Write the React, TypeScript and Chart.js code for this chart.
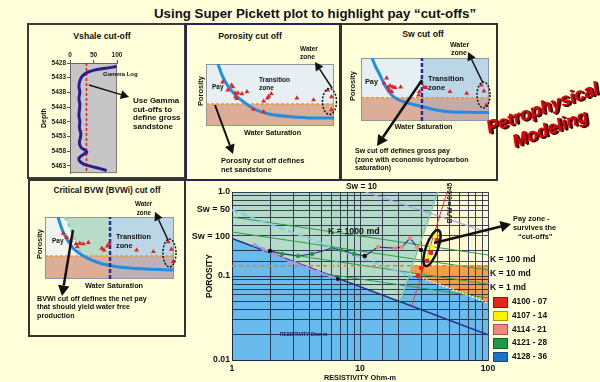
import React, { useEffect, useRef } from 'react';
import { Chart, registerables } from 'chart.js';
Chart.register(...registerables);

const FONT = '"Liberation Sans", Arial, Helvetica, sans-serif';

// ---------------- Vshale panel data ----------------
const vshaleXTicks = [0, 50, 100];
const vshaleDepthTicks = [5428, 5433, 5438, 5443, 5448, 5453, 5458, 5463];
const gammaDepth = [5429.2, 5429.8, 5430.5, 5431.3, 5432.5, 5434.0, 5436.0, 5438.0, 5440.0, 5442.0, 5444.0, 5446.0, 5448.0, 5450.0, 5452.0, 5453.5, 5455.0, 5456.0, 5457.0, 5457.8, 5458.4, 5459.2, 5460.2, 5461.0, 5461.8, 5462.5, 5463.2, 5463.9, 5464.6];
const gammaValue = [99, 75, 50, 36, 26, 21, 19, 21, 19, 21, 20, 19, 21, 20, 23, 22, 20, 21, 25, 33, 36, 28, 20, 19, 23, 30, 45, 62, 78];
const gammaCutoff = 35;

// ---------------- Porosity cut-off panel ----------------
const porCurveSw = [9.4, 12.5, 17, 23, 30.5, 38, 50, 66, 81, 100];
const porCurvePhi = [100, 82, 65, 50, 37, 27, 19, 15, 13, 13];
const porPointSw = [13, 17, 20, 21, 23, 25, 28, 32, 23, 24, 37, 45, 45, 48, 49, 51, 71, 84, 95, 98, 98];
const porPointPhi = [71, 58, 66, 63, 53, 53, 52, 55, 47, 44, 27, 23, 40, 45, 48, 52, 45, 42, 58, 47, 26];
const porCutoff = 35.5;

// ---------------- Sw cut-off panel ----------------
const swCurveSw = [8.6, 11.5, 14.8, 18.5, 22.7, 28, 36, 44, 51.6, 60, 69.5, 82, 100];
const swCurvePhi = [100, 86, 73, 57, 44, 35, 29, 24.5, 21, 17, 14.5, 13.8, 13.5];
const swPointSw = [20, 18, 21, 22.7, 24.7, 26.6, 31, 22, 24, 45, 45.6, 49, 50.8, 69.5, 82.6, 94, 96, 98];
const swPointPhi = [68, 60, 54, 56, 54, 53, 54, 49, 46.5, 41, 46.5, 54, 53, 46.5, 44, 57, 47.6, 25];
const swPorCutoff = 37;
const swCutoff = 47.6;

// ---------------- BVWi panel ----------------
const bvwCurveSw = [10, 14, 21.7, 32.6, 48, 66, 100];
const bvwCurvePhi = [100, 76, 50, 34, 22.6, 17.7, 14.5];
const bvwiSw = [15.5, 21, 24.8, 28];
const bvwiPhi = [100, 76, 55, 37];
const bvwPointSw = [14.2, 16.8, 19.9, 24, 27, 29.7, 33.6, 25, 44, 45.7, 48.3, 49.8, 71, 84, 95.6, 98, 99.5];
const bvwPointPhi = [73.7, 67, 62, 56.5, 57.5, 56.5, 58.6, 52, 49.5, 46.8, 53, 57.5, 46.8, 44, 60, 48, 28];
const bvwPorCutoff = 37;
const bvwSwCutoff = 50.4;

// ---------------- Super Pickett plot ----------------
const rtTickValues = [1, 10, 100];
const rtTickLabels = ['1', '10', '100'];
const phiTickValues = [0.01, 0.1, 1];
const phiTickLabels = ['0.01', '0.1', '1.0'];
const sw100Rt = [1, 100];
const sw100Phi = [0.279, 0.0199];
const sw50Rt = [1, 25.7];
const sw50Phi = [0.607, 0.0984];
const sw10Rt = [11, 100];
const sw10Phi = [1.0, 0.33];
const kLineRt = [1, 100];
const kLinePhi = [[0.504, 0.178], [0.334, 0.118], [0.228, 0.080], [0.155, 0.0547]];
const phiCutoff = 0.132;
const bvwLineRt = [47.9, 25.5];
const bvwLinePhi = [1.0, 0.0452];
const zoneEdgeRt = [40.6, 20.5];
const zoneEdgePhi = [1.0, 0.0494];
const lowEdgeRt = [24.5, 100];
const lowEdgePhi = [0.107, 0.0481];
const shaleRt = [1.51, 1.75, 2.17, 2.5, 3.1, 3.86, 4.7, 6.7];
const shalePhi = [0.234, 0.21, 0.178, 0.159, 0.143, 0.125, 0.112, 0.092];
const trendRt = [1.98, 2.46, 3.28, 4.22, 6.04, 7.1, 8.98, 10.9, 13.8, 18.8, 21.3, 24.6, 27.9, 30.0];
const trendPhi = [0.199, 0.183, 0.173, 0.183, 0.215, 0.204, 0.183, 0.173, 0.221, 0.215, 0.221, 0.283, 0.221, 0.204];
const trendGroup = ['k', 'g', 'g', 'g', 'g', 'g', 'g', 'k', 's', 's', 's', 's', 's', 'k'];
const payYellowRt = [38.5, 36.5, 34.0];
const payYellowPhi = [0.308, 0.221, 0.168];
const payRedRt = [39.9, 35.9, 33.4, 30.0, 28.4];
const payRedPhi = [0.268, 0.188, 0.151, 0.125, 0.1];
const payCenter = { rt: 36.5, phi: 0.215 };
const legendLabels = ['4100 - 07', '4107 - 14', '4114 - 21', '4121 - 28', '4128 - 36'];
const legendColors = ['#E3241F', '#FFF200', '#F3877C', '#1D9A47', '#1B74C9'];

// ---------------- helpers ----------------
const pts = (xs: number[], ys: number[]) => xs.map((x, i) => ({ x, y: ys[i] }));

type Zone = { pts: number[][]; color: string };

function zonesPlugin(zones: Zone[], frame?: string) {
  return {
    id: 'zones',
    beforeDraw(chart: any) {
      const { ctx, chartArea: a } = chart;
      const xs = chart.scales.x, ys = chart.scales.y;
      ctx.save();
      ctx.beginPath();
      ctx.rect(a.left, a.top, a.right - a.left, a.bottom - a.top);
      ctx.clip();
      zones.forEach((z) => {
        ctx.beginPath();
        z.pts.forEach(([px, py], i) => {
          const X = xs.getPixelForValue(px), Y = ys.getPixelForValue(py);
          if (i) ctx.lineTo(X, Y); else ctx.moveTo(X, Y);
        });
        ctx.closePath();
        ctx.fillStyle = z.color;
        ctx.fill();
      });
      ctx.restore();
      if (frame) {
        ctx.save();
        ctx.strokeStyle = frame;
        ctx.lineWidth = 1;
        ctx.strokeRect(a.left + 0.5, a.top + 0.5, a.right - a.left - 1, a.bottom - a.top - 1);
        ctx.restore();
      }
    },
  };
}

function ChartCanvas({ left, top, width, height, make }: { left: number; top: number; width: number; height: number; make: () => any }) {
  const ref = useRef<HTMLCanvasElement>(null);
  useEffect(() => {
    const chart = new Chart(ref.current as HTMLCanvasElement, make());
    return () => chart.destroy();
  }, []);
  return <canvas ref={ref} width={width} height={height} style={{ position: 'absolute', left, top, width, height }} />;
}

const baseOptions = (extra: any) => ({
  animation: false,
  responsive: false,
  devicePixelRatio: 1,
  events: [],
  plugins: { legend: { display: false }, tooltip: { enabled: false } },
  ...extra,
});

const lineDs = (xs: number[], ys: number[], color: string, width: number, dash: number[] = [], extra: any = {}) => ({
  data: pts(xs, ys), showLine: true, borderColor: color, backgroundColor: color, borderWidth: width, borderDash: dash, pointRadius: 0, fill: false, ...extra,
});

const triDs = (xs: number[], ys: number[]) => ({
  data: pts(xs, ys), showLine: false, pointStyle: 'triangle', pointRadius: 2.8, pointBackgroundColor: '#E52020', pointBorderColor: '#E52020', pointBorderWidth: 0, clip: false,
});

const withOrder = (ds: any[]) => ds.map((d, i) => ({ ...d, order: ds.length - i }));

const PALE = '#E6EFF1', LBLUE = '#BBD6E7', TAN = '#DCAE97', GREYR = '#C4ABA9', GREENP = '#B9DCC9';
const CURVE = '#1F8FE6', NAVY = '#2B2A8E', ORNG = '#F39125';

function panelConfig(zones: Zone[], datasets: any[]) {
  return {
    type: 'scatter',
    data: { datasets: withOrder(datasets) },
    options: baseOptions({
      layout: { padding: 6 },
      scales: {
        x: { type: 'linear', display: false, min: 0, max: 100 },
        y: { type: 'linear', display: false, min: 0, max: 100 },
      },
    }),
    plugins: [zonesPlugin(zones, '#8E96A0')],
  };
}

const rect = (x0: number, y0: number, x1: number, y1: number) => [[x0, y0], [x1, y0], [x1, y1], [x0, y1]];

function makeVshale() {
  const tickFont = { family: FONT, size: 6.5, weight: 'bold' };
  return {
    type: 'scatter',
    data: {
      datasets: withOrder([
        lineDs([gammaCutoff, gammaCutoff], [vshaleDepthTicks[0], 5465.5], '#E22222', 1.5, [3, 2]),
        lineDs(gammaValue, gammaDepth, '#2C1C8E', 3, [], { tension: 0.35 }),
      ]),
    },
    options: baseOptions({
      layout: { padding: { left: 0, top: 0, right: 11, bottom: 1 } },
      scales: {
        x: {
          type: 'linear', position: 'top', min: 0, max: 100,
          afterBuildTicks: (s: any) => { s.ticks = vshaleXTicks.map((v) => ({ value: v })); },
          afterFit: (s: any) => { s.height = 18; },
          grid: { drawOnChartArea: false, tickLength: 3, color: '#555' },
          border: { color: '#666' },
          ticks: { font: tickFont, color: '#222', padding: 1, maxRotation: 0, callback: (v: any) => String(v) },
        },
        y: {
          type: 'linear', min: 5428, max: 5465.5, reverse: true,
          afterBuildTicks: (s: any) => { s.ticks = vshaleDepthTicks.map((v) => ({ value: v })); },
          afterFit: (s: any) => { s.width = 34; },
          grid: { drawOnChartArea: false, tickLength: 3, color: '#555' },
          border: { color: '#666' },
          ticks: { font: tickFont, color: '#222', padding: 1, callback: (v: any) => String(v) },
          title: { display: true, text: 'Depth', font: { family: FONT, size: 7, weight: 'bold' }, color: '#111', padding: { top: 4, bottom: 0 } },
        },
      },
    }),
    plugins: [zonesPlugin([{ pts: rect(0, 5428, 100, 5465.5), color: '#C6C6C6' }], '#777')],
  };
}

function makePorosity() {
  return panelConfig(
    [
      { pts: rect(0, 0, 100, 100), color: PALE },
      { pts: rect(0, 0, 100, porCutoff), color: TAN },
    ],
    [
      lineDs([0, 100], [porCutoff, porCutoff], ORNG, 1.5, [3, 2]),
      lineDs(porCurveSw, porCurvePhi, CURVE, 3, [], { cubicInterpolationMode: 'monotone' }),
      triDs(porPointSw, porPointPhi),
    ]
  );
}

function makeSw() {
  return panelConfig(
    [
      { pts: rect(0, 0, 100, 100), color: PALE },
      { pts: rect(swCutoff, swPorCutoff, 100, 100), color: LBLUE },
      { pts: rect(0, 0, swCutoff, swPorCutoff), color: TAN },
      { pts: rect(swCutoff, 0, 100, swPorCutoff), color: GREYR },
    ],
    [
      lineDs([0, 100], [swPorCutoff, swPorCutoff], ORNG, 1.5, [3, 2]),
      lineDs(swCurveSw, swCurvePhi, CURVE, 3, [], { cubicInterpolationMode: 'monotone' }),
      lineDs([swCutoff, swCutoff], [0, 100], NAVY, 2.5, [4, 2]),
      triDs(swPointSw, swPointPhi),
    ]
  );
}

function makeBvw() {
  const greenZone = [...bvwiSw.map((x, i) => [x, bvwiPhi[i]]).reverse(), [bvwSwCutoff, bvwPorCutoff], [bvwSwCutoff, 100]];
  const greenZoneFixed = [[bvwSwCutoff, 100], ...bvwiSw.map((x, i) => [x, bvwiPhi[i]]), [bvwSwCutoff, bvwPorCutoff]];
  void greenZone;
  return panelConfig(
    [
      { pts: rect(0, 0, 100, 100), color: '#F1F4EF' },
      { pts: greenZoneFixed, color: GREENP },
      { pts: rect(bvwSwCutoff, bvwPorCutoff, 100, 100), color: LBLUE },
      { pts: rect(0, 0, bvwSwCutoff, bvwPorCutoff), color: TAN },
      { pts: rect(bvwSwCutoff, 0, 100, bvwPorCutoff), color: '#BFB1B6' },
    ],
    [
      lineDs([0, 100], [bvwPorCutoff, bvwPorCutoff], ORNG, 1.5, [3, 2]),
      lineDs(bvwiSw, bvwiPhi, '#92D6AC', 3, [4, 3], { tension: 0.3 }),
      lineDs(bvwCurveSw, bvwCurvePhi, CURVE, 3, [], { cubicInterpolationMode: 'monotone' }),
      lineDs([bvwSwCutoff, bvwSwCutoff], [0, 100], NAVY, 2.5, [4, 2]),
      triDs(bvwPointSw, bvwPointPhi),
    ]
  );
}

function logAt(x0: number, y0: number, x1: number, y1: number, y: number) {
  const t = (Math.log10(y) - Math.log10(y0)) / (Math.log10(y1) - Math.log10(y0));
  return Math.pow(10, Math.log10(x0) + t * (Math.log10(x1) - Math.log10(x0)));
}

function makePickett() {
  const GRID = 'rgba(28,36,58,0.85)';
  const orangeLeftRt = logAt(zoneEdgeRt[0], zoneEdgePhi[0], zoneEdgeRt[1], zoneEdgePhi[1], phiCutoff);
  const zones: Zone[] = [
    { pts: rect(1, 0.01, 100, 1), color: '#69BBEE' },
    { pts: [[1, 1], [zoneEdgeRt[0], zoneEdgePhi[0]], [zoneEdgeRt[1], zoneEdgePhi[1]], [sw100Rt[0], sw100Phi[0]]], color: '#B4DBC7' },
    { pts: [[zoneEdgeRt[0], zoneEdgePhi[0]], [100, 1], [lowEdgeRt[1], lowEdgePhi[1]], [lowEdgeRt[0], lowEdgePhi[0]]], color: '#FFF9D4' },
    { pts: [[orangeLeftRt, phiCutoff], [100, phiCutoff], [lowEdgeRt[1], lowEdgePhi[1]], [lowEdgeRt[0], lowEdgePhi[0]]], color: '#F2A042' },
  ];
  const tickFont = { family: FONT, size: 8.7, weight: 'bold' };
  const pick = (vals: number[], labels: string[]) => (v: any) => {
    const i = vals.findIndex((t) => Math.abs(Math.log10(Number(v)) - Math.log10(t)) < 1e-6);
    return i >= 0 ? labels[i] : '';
  };
  const groupColor: Record<string, string> = { k: '#111111', g: '#1E9A45', s: '#F3877C' };
  const datasets = [
    ...kLinePhi.map((p) => lineDs(kLineRt, p, '#2E9C4A', 1, [], { clipAboveSw100: true })),
    lineDs(sw10Rt, sw10Phi, '#A9A5E4', 1.2),
    lineDs(sw50Rt, sw50Phi, '#7EC8F3', 2, [6, 4]),
    lineDs([1, 100], [phiCutoff, phiCutoff], '#F07A22', 1.5, [4, 3]),
    lineDs(zoneEdgeRt, zoneEdgePhi, '#7BCBA6', 1.5),
    lineDs(lowEdgeRt, lowEdgePhi, '#FFFFFF', 1.5, [1.5, 2]),
    lineDs(bvwLineRt, bvwLinePhi, '#F23232', 1),
    lineDs(sw100Rt, sw100Phi, '#2E2A86', 1.5),
    {
      data: pts(shaleRt, shalePhi), showLine: true, borderColor: '#A49CE0', borderWidth: 2, pointRadius: 2,
      pointBackgroundColor: shaleRt.map((_, i) => (i === shaleRt.length - 1 ? '#111' : '#A49CE0')), pointBorderWidth: 0,
    },
    {
      data: pts(trendRt, trendPhi), showLine: true, borderColor: '#3B2F8F', borderWidth: 1.2, pointRadius: 2.2,
      pointBackgroundColor: trendGroup.map((g) => groupColor[g]), pointBorderWidth: 0,
    },
    { data: pts(payYellowRt, payYellowPhi), showLine: false, pointRadius: 2.6, pointBackgroundColor: '#FFF200', pointBorderWidth: 0 },
    { data: pts(payRedRt, payRedPhi), showLine: false, pointRadius: 2.4, pointBackgroundColor: '#E3241F', pointBorderWidth: 0 },
  ];
  const clipPlugin = {
    id: 'clipK',
    beforeDatasetDraw(chart: any, args: any) {
      const ds = chart.data.datasets[args.index];
      if (!ds.clipAboveSw100) return;
      const { ctx } = chart;
      const xs = chart.scales.x, ys = chart.scales.y;
      ctx.save();
      ctx.beginPath();
      ctx.moveTo(xs.getPixelForValue(1), ys.getPixelForValue(1));
      ctx.lineTo(xs.getPixelForValue(100), ys.getPixelForValue(1));
      ctx.lineTo(xs.getPixelForValue(sw100Rt[1]), ys.getPixelForValue(sw100Phi[1]));
      ctx.lineTo(xs.getPixelForValue(sw100Rt[0]), ys.getPixelForValue(sw100Phi[0]));
      ctx.closePath();
      ctx.clip();
    },
    afterDatasetDraw(chart: any, args: any) {
      const ds = chart.data.datasets[args.index];
      if (ds.clipAboveSw100) chart.ctx.restore();
    },
  };
  const ellipsePlugin = {
    id: 'payEllipse',
    afterDatasetsDraw(chart: any) {
      const { ctx } = chart;
      const X = chart.scales.x.getPixelForValue(payCenter.rt);
      const Y = chart.scales.y.getPixelForValue(payCenter.phi);
      ctx.save();
      ctx.beginPath();
      ctx.ellipse(X, Y, 6, 19, 0.35, 0, Math.PI * 2);
      ctx.strokeStyle = '#111';
      ctx.lineWidth = 2.5;
      ctx.stroke();
      ctx.restore();
    },
  };
  return {
    type: 'scatter',
    data: { datasets: withOrder(datasets) },
    options: baseOptions({
      layout: { padding: { left: 25, top: 9, right: 12, bottom: 0 } },
      scales: {
        x: {
          type: 'logarithmic', min: 1, max: 100,
          afterFit: (s: any) => { s.height = 22; },
          grid: { color: GRID, lineWidth: 1, drawTicks: false },
          border: { display: true, color: GRID },
          ticks: { autoSkip: false, maxRotation: 0, padding: 3, font: tickFont, color: '#111', callback: pick(rtTickValues, rtTickLabels) },
          title: { display: true, text: 'RESISTIVITY Ohm-m', font: { family: FONT, size: 7.3, weight: 'bold' }, color: '#111', padding: { top: 0, bottom: 0 } },
        },
        y: {
          type: 'logarithmic', min: 0.01, max: 1,
          afterFit: (s: any) => { s.width = 27; },
          grid: { color: GRID, lineWidth: 1, drawTicks: false },
          border: { display: true, color: GRID },
          ticks: { autoSkip: false, padding: 2, font: tickFont, color: '#111', callback: pick(phiTickValues, phiTickLabels) },
          title: { display: true, text: 'POROSITY', font: { family: FONT, size: 8.5, weight: 'bold' }, color: '#111', padding: { top: 0, bottom: 0 } },
        },
      },
    }),
    plugins: [zonesPlugin(zones), clipPlugin, ellipsePlugin],
  };
}

// ---------------- overlay pieces ----------------
type TP = { x: number; y: number; s?: number; a?: 'l' | 'c' | 'r'; c?: string; rot?: number; children: React.ReactNode };
function Txt({ x, y, s = 7.5, a = 'l', c = '#111', rot, children }: TP) {
  const style: React.CSSProperties = {
    position: 'absolute', top: y - s * 0.6, fontSize: s, lineHeight: `${s * 1.2}px`, fontWeight: 700,
    color: c, whiteSpace: 'nowrap', fontFamily: FONT,
  };
  if (rot) {
    style.left = x; style.top = y; style.transform = `translate(-50%,-50%) rotate(${rot}deg)`;
  } else if (a === 'c') {
    style.left = x; style.transform = 'translateX(-50%)';
  } else if (a === 'r') {
    style.right = 600 - x;
  } else style.left = x;
  return <div style={style}>{children}</div>;
}

function Arrow({ x1, y1, x2, y2, w }: { x1: number; y1: number; x2: number; y2: number; w: number }) {
  const dx = x2 - x1, dy = y2 - y1, L = Math.hypot(dx, dy), ux = dx / L, uy = dy / L;
  const hl = 5 + w * 2.2, hw = 2.5 + w * 1.3;
  const bx = x2 - ux * hl, by = y2 - uy * hl;
  return (
    <g>
      <line x1={x1} y1={y1} x2={bx} y2={by} stroke="#111" strokeWidth={w} />
      <polygon points={`${x2},${y2} ${bx - uy * hw},${by + ux * hw} ${bx + uy * hw},${by - ux * hw}`} fill="#111" />
    </g>
  );
}

function Box({ l, t, w, h, c }: { l: number; t: number; w: number; h: number; c: string }) {
  return <div style={{ position: 'absolute', left: l, top: t, width: w, height: h, border: `2px solid ${c}`, boxSizing: 'border-box' }} />;
}

export default function App() {
  return (
    <div style={{ position: 'absolute', left: 0, top: 0, width: 600, height: 382, background: '#FFFFDA', overflow: 'hidden', fontFamily: FONT }}>
      <Txt x={315} y={14} s={13.3} a="c">Using Super Pickett plot to highlight pay “cut-offs”</Txt>

      <Box l={27} t={23} w={159} h={156} c="#3A3A3A" />
      <Box l={185} t={23} w={156} h={158} c="#24245E" />
      <Box l={340} t={23} w={158} h={158} c="#333" />
      <Box l={28} t={179} w={158} h={158} c="#333" />

      {/* Vshale */}
      <Txt x={102} y={36} s={8.7} a="c">Vshale cut-off</Txt>
      <ChartCanvas left={36} top={45} width={92} height={133} make={makeVshale} />
      <Txt x={103} y={75} s={6}>Gamma Log</Txt>
      <Txt x={133} y={101} s={8}>Use Gamma</Txt>
      <Txt x={133} y={109.5} s={8}>cut-offs to</Txt>
      <Txt x={133} y={118} s={8}>define gross</Txt>
      <Txt x={133} y={126.5} s={8}>sandstone</Txt>

      {/* Porosity cut off */}
      <Txt x={250} y={36} s={8.7} a="c">Porosity cut off</Txt>
      <ChartCanvas left={200} top={58} width={140} height={74} make={makePorosity} />
      <Txt x={199.5} y={91} s={7.5} rot={-90}>Porosity</Txt>
      <Txt x={212} y={87} s={6.5}>Pay</Txt>
      <Txt x={259} y={80} s={6.5}>Transition</Txt>
      <Txt x={259} y={88} s={6.5}>zone</Txt>
      <Txt x={300} y={49} s={6.5}>Water</Txt>
      <Txt x={300} y={57} s={6.5}>zone</Txt>
      <Txt x={272.5} y={133} s={7.2} a="c">Water Saturation</Txt>
      <Txt x={221} y={160} s={7.5}>Porosity cut off defines</Txt>
      <Txt x={221} y={169} s={7.5}>net sandstone</Txt>

      {/* Sw cut off */}
      <Txt x={423} y={34} s={8.7} a="c">Sw cut off</Txt>
      <ChartCanvas left={355} top={52} width={140} height={75} make={makeSw} />
      <Txt x={352} y={86} s={7.5} rot={-90}>Porosity</Txt>
      <Txt x={365} y={82} s={7.3}>Pay</Txt>
      <Txt x={428} y={78} s={7.5}>Transition</Txt>
      <Txt x={428} y={87} s={7.5}>zone</Txt>
      <Txt x={450} y={45} s={7}>Water</Txt>
      <Txt x={451} y={53} s={7}>zone</Txt>
      <Txt x={423.5} y={127} s={7.3} a="c">Water Saturation</Txt>
      <Txt x={355} y={151} s={7}>Sw cut off defines gross pay</Txt>
      <Txt x={355} y={159.7} s={7}>(zone with economic hydrocarbon</Txt>
      <Txt x={355} y={168} s={7}>saturation)</Txt>

      {/* BVWi */}
      <Txt x={107} y={191} s={8.3} a="c">Critical BVW (BVWi) cut off</Txt>
      <ChartCanvas left={39} top={211} width={141} height={74} make={makeBvw} />
      <Txt x={39} y={244} s={7.5} rot={-90}>Porosity</Txt>
      <Txt x={52} y={240.7} s={6.5}>Pay</Txt>
      <Txt x={116} y={237.3} s={7.3}>Transition</Txt>
      <Txt x={116} y={246} s={7.3}>zone</Txt>
      <Txt x={135} y={203.3} s={6.3}>Water</Txt>
      <Txt x={136.7} y={212.3} s={6.3}>zone</Txt>
      <Txt x={114} y={286} s={7.3} a="c">Water Saturation</Txt>
      <Txt x={37} y={299.3} s={7.2}>BVWi cut off defines the net pay</Txt>
      <Txt x={37} y={307.7} s={7.2}>that should yield water free</Txt>
      <Txt x={37} y={316} s={7.2}>production</Txt>

      {/* Super Pickett */}
      <ChartCanvas left={180} top={183} width={320} height={199} make={makePickett} />
      <Txt x={361.5} y={186} s={8.4} a="c">Sw = 10</Txt>
      <Txt x={230} y={209} s={9} a="r">Sw = 50</Txt>
      <Txt x={230} y={236} s={9} a="r">Sw = 100</Txt>
      <Txt x={328} y={231} s={8.8}>K = 1000 md</Txt>
      <Txt x={280} y={335} s={4.8} c="#1A1A50">RESISTIVITY Ohm-m</Txt>
      <Txt x={450} y={203} s={6.8} rot={-90}>BVW = 0.045</Txt>
      <Txt x={490} y={259} s={8.6}>K = 100 md</Txt>
      <Txt x={490} y={273} s={8.6}>K = 10 md</Txt>
      <Txt x={490} y={287} s={8.6}>K = 1 md</Txt>
      <Txt x={513} y={219} s={7.4}>Pay zone -</Txt>
      <Txt x={513} y={228} s={7.4}>survives the</Txt>
      <Txt x={518} y={237.5} s={7.4}>“cut-offs”</Txt>
      {legendLabels.map((lab, i) => (
        <React.Fragment key={lab}>
          <div style={{ position: 'absolute', left: 493, top: 297 + i * 13.7, width: 15, height: 10.5, background: legendColors[i], border: '1px solid rgba(0,0,0,0.35)', boxSizing: 'border-box' }} />
          <Txt x={512} y={302.3 + i * 13.7} s={8.3}>{lab}</Txt>
        </React.Fragment>
      ))}

      <svg width={600} height={382} style={{ position: 'absolute', left: 0, top: 0, pointerEvents: 'none' }}>
        <Arrow x1={89} y1={85} x2={129} y2={97} w={1.5} />
        <Arrow x1={332} y1={88} x2={315} y2={62} w={1.5} />
        <Arrow x1={215} y1={105} x2={233} y2={154} w={2} />
        <Arrow x1={483} y1={83} x2={468} y2={52} w={1.5} />
        <Arrow x1={422} y1={80} x2={377} y2={146} w={2.5} />
        <Arrow x1={168} y1={240} x2={155} y2={212} w={1.5} />
        <Arrow x1={73} y1={230} x2={62} y2={296} w={2.5} />
        <Arrow x1={434} y1={243} x2={511} y2={224} w={2.5} />
        <ellipse cx={329.5} cy={101.5} rx={7} ry={13} fill="none" stroke="#111" strokeWidth={1.5} strokeDasharray="2 1.5" />
        <ellipse cx={483.5} cy={95} rx={6.5} ry={13} fill="none" stroke="#111" strokeWidth={1.5} strokeDasharray="2 1.5" />
        <ellipse cx={169.5} cy={253} rx={6.5} ry={14} fill="none" stroke="#111" strokeWidth={1.5} strokeDasharray="2 1.5" />
      </svg>

      <div style={{ position: 'absolute', left: 476, top: 96, width: 140, textAlign: 'center', transform: 'rotate(-20deg)', fontFamily: FONT, fontWeight: 700, fontStyle: 'italic', fontSize: 18, lineHeight: '22px', color: '#E6000C', textShadow: '1px 1px 0 #5A0000, 2px 2px 0 #2A0000', whiteSpace: 'nowrap' }}>
        <div>Petrophysical</div>
        <div>Modeling</div>
      </div>
    </div>
  );
}
